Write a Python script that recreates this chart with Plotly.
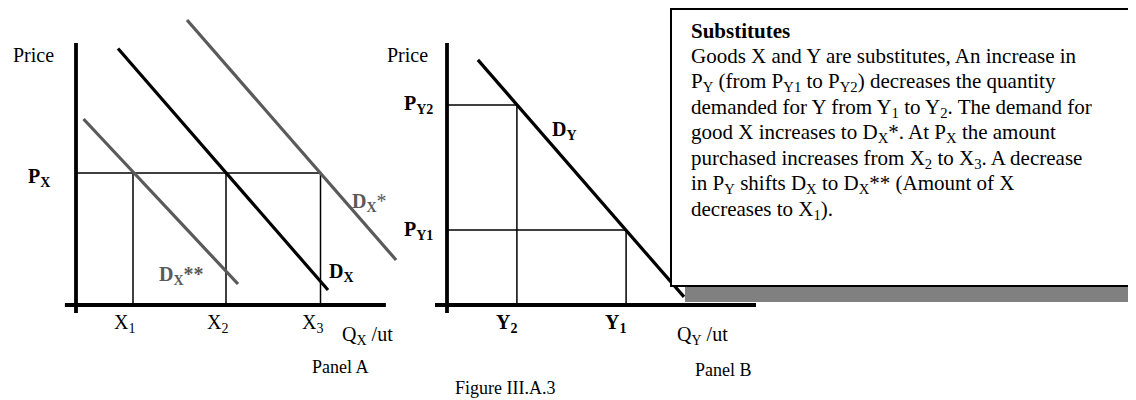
import plotly.graph_objects as go

W, H = 1136, 400

# Panel A: good X
precio_x = 4.4
cantidades_x = [1.9, 5.0, 8.15]
etiquetas_x = ["X<sub>1</sub>", "X<sub>2</sub>", "X<sub>3</sub>"]
dx_q = [1.4, 8.4]
dx_p = [8.55, 0.5]
dx_star_q = [3.7, 10.67]
dx_star_p = [9.5, 1.5]
dx_2star_q = [0.25, 5.4]
dx_2star_p = [6.2, 0.7]

# Panel B: good Y
precios_y = [2.5, 6.67]
etiquetas_py = ["P<sub>Y1</sub>", "P<sub>Y2</sub>"]
cantidades_y = [5.97, 2.33]
etiquetas_y = ["Y<sub>1</sub>", "Y<sub>2</sub>"]
dy_q = [1.03, 7.9]
dy_p = [8.17, 0.27]

texto_caja = [
    "<b>Substitutes</b>",
    "Goods X and Y are substitutes, An increase in",
    "P<sub>Y</sub> (from P<sub>Y1</sub> to P<sub>Y2</sub>) decreases the quantity",
    "demanded for Y from Y<sub>1</sub> to Y<sub>2</sub>. The demand for",
    "good X increases to D<sub>X</sub>*. At P<sub>X</sub> the amount",
    "purchased increases from X<sub>2</sub> to X<sub>3</sub>. A decrease",
    "in P<sub>Y</sub> shifts D<sub>X</sub> to D<sub>X</sub>** (Amount of X",
    "decreases to X<sub>1</sub>).",
]

FUENTE = "Liberation Serif, Times New Roman, serif"
NEGRO = "black"
GRIS = "#5a5a5a"
ESCALA = 30.0  # pixels per unit
OFF = 8  # margen del body de la pagina html
FW, FH = W - OFF, H - OFF


def px(x):
    return (x - OFF) / FW


def py(y):
    return 1 - (y - OFF) / FH


def linea(fig, xs, ys, ax, color=NEGRO, ancho=1.5):
    fig.add_trace(go.Scatter(
        x=xs, y=ys, mode="lines", xaxis=ax[0], yaxis=ax[1],
        line=dict(color=color, width=ancho), hoverinfo="skip",
    ))


def texto(fig, t, x, y, xref, yref, size=20, color=NEGRO, xanchor="center", yanchor="middle", yshift=0):
    fig.add_annotation(
        text=t, x=x, y=y, xref=xref, yref=yref, showarrow=False,
        xanchor=xanchor, yanchor=yanchor, yshift=yshift,
        font=dict(family=FUENTE, size=size, color=color),
    )


fig = go.Figure()
A = ("x", "y")
B = ("x2", "y2")

# ---- Panel A ----
# lineas de referencia
linea(fig, [0, cantidades_x[-1]], [precio_x, precio_x], A)
for q in cantidades_x:
    linea(fig, [q, q], [0, precio_x], A)
# curvas de demanda
linea(fig, dx_2star_q, dx_2star_p, A, GRIS, 3.2)
linea(fig, dx_star_q, dx_star_p, A, GRIS, 3.2)
linea(fig, dx_q, dx_p, A, NEGRO, 3.2)
# ejes
linea(fig, [-0.37, 10.33], [0, 0], A, NEGRO, 3.8)
linea(fig, [0, 0], [-0.27, 8.73], A, NEGRO, 3.8)

# ---- Panel B ----
for p, q in zip(precios_y, cantidades_y):
    linea(fig, [0, q], [p, p], B)
    linea(fig, [q, q], [0, p], B)
linea(fig, dy_q, dy_p, B, NEGRO, 3.2)
linea(fig, [-0.4, 10.3], [0, 0], B, NEGRO, 3.8)
linea(fig, [0, 0], [-0.27, 8.73], B, NEGRO, 3.8)

# ---- etiquetas panel A ----
texto(fig, "Price", px(33), py(55), "paper", "paper")
texto(fig, "<b>P<sub>X</sub></b>", -0.8, precio_x, "x", "y", xanchor="right", yshift=-4)
for q, lab in zip(cantidades_x, etiquetas_x):
    texto(fig, lab, q + 4 / ESCALA, -0.6, "x", "y", xanchor="right")
texto(fig, "Q<sub>X</sub> /ut", px(340), py(335), "paper", "paper", xanchor="left")
texto(fig, "<b>D<sub>X</sub></b>*", 9.13, 3.43, "x", "y", color=GRIS, xanchor="left")
texto(fig, "<b>D<sub>X</sub></b>", 8.37, 1.1, "x", "y", xanchor="left")
texto(fig, "<b>D<sub>X</sub>**</b>", 2.7, 1.0, "x", "y", color=GRIS, xanchor="left")
texto(fig, "Panel A", px(310), py(367), "paper", "paper", size=18, xanchor="left")

# ---- etiquetas panel B ----
texto(fig, "Price", px(407), py(55), "paper", "paper")
for p, lab in zip(precios_y, etiquetas_py):
    texto(fig, "<b>" + lab + "</b>", -0.4, p, "x2", "y2", xanchor="right")
for q, lab in zip(cantidades_y, etiquetas_y):
    texto(fig, "<b>" + lab + "</b>", q + 2 / ESCALA, -0.6, "x2", "y2", xanchor="right")
texto(fig, "<b>D<sub>Y</sub></b>", 3.43, 5.83, "x2", "y2", xanchor="left")
texto(fig, "Q<sub>Y</sub> /ut", px(675), py(335), "paper", "paper", xanchor="left")
texto(fig, "Panel B", px(693), py(370), "paper", "paper", size=18, xanchor="left")
texto(fig, "Figure III.A.3", px(453), py(388), "paper", "paper", size=18, xanchor="left")

# ---- caja de texto con sombra ----
fig.add_shape(type="rect", xref="paper", yref="paper", layer="above",
              x0=px(685), x1=px(1145), y0=py(302), y1=py(22),
              fillcolor="#808080", line=dict(width=0))
fig.add_shape(type="rect", xref="paper", yref="paper", layer="above",
              x0=px(671), x1=px(1129), y0=py(286), y1=py(9),
              fillcolor="white", line=dict(color=NEGRO, width=2))
for i, t in enumerate(texto_caja):
    texto(fig, t, px(689), py(31 + i * 25.5), "paper", "paper", size=21, xanchor="left")

# ejes: 30 px por unidad, origen panel A en (76,305), panel B en (447,305)
eje = dict(visible=False, range=[-1, 11], fixedrange=True)
eje_y = dict(visible=False, range=[-1, 9.9], domain=[py(335), py(8)], fixedrange=True)
fig.update_layout(
    width=FW, height=FH,
    margin=dict(l=0, r=0, t=0, b=0),
    plot_bgcolor="white", paper_bgcolor="white",
    showlegend=False,
    xaxis=dict(eje, domain=[px(46), px(406)]),
    xaxis2=dict(eje, domain=[px(417), px(777)], anchor="y2"),
    yaxis=dict(eje_y),
    yaxis2=dict(eje_y, anchor="x2"),
)

fig.write_html("out.html")
